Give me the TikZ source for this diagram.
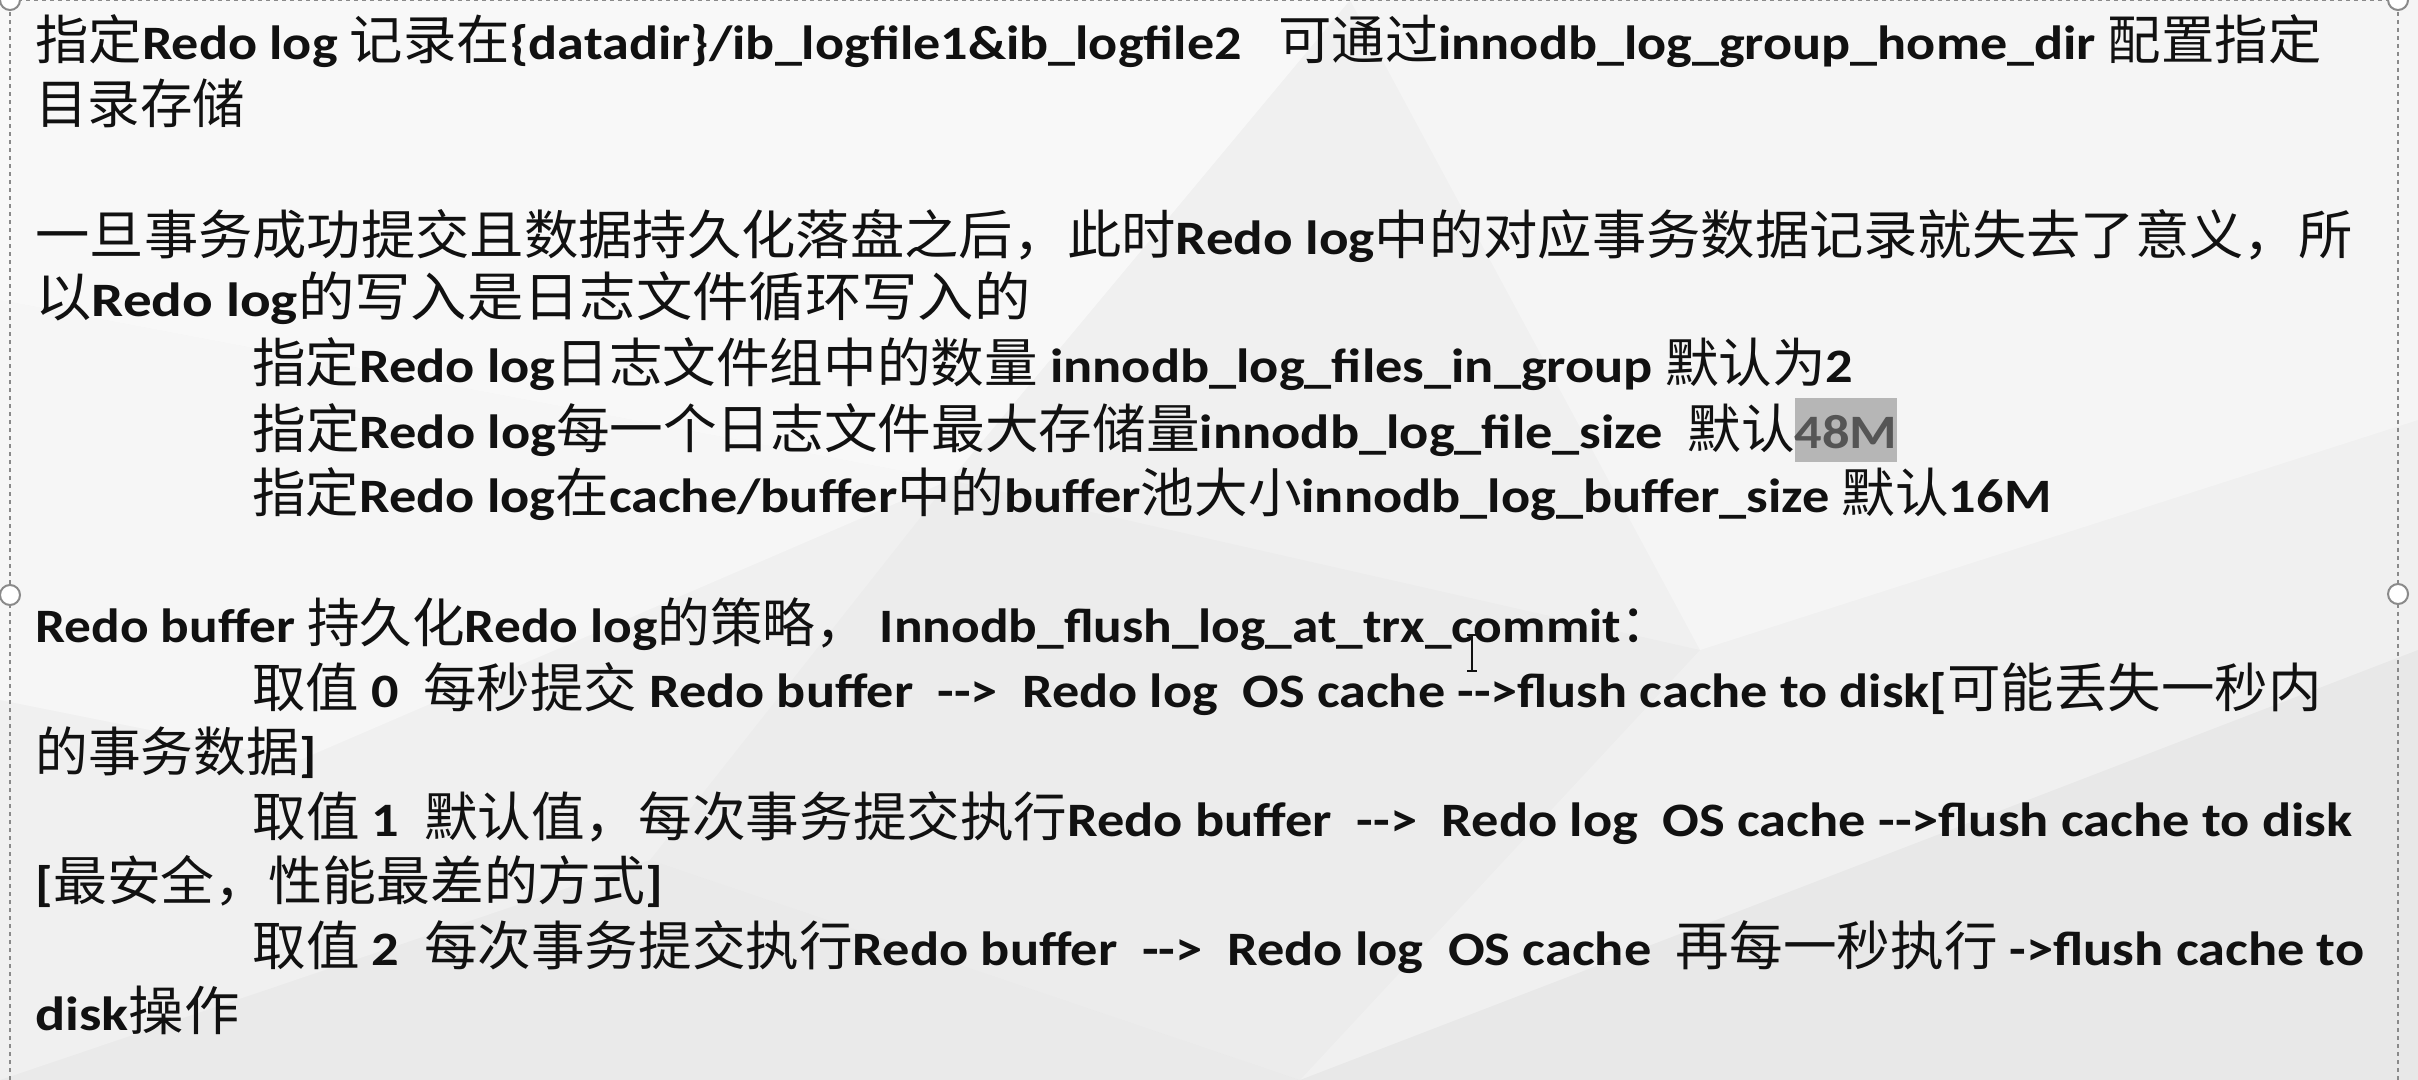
\documentclass[tikz,border=0pt]{standalone}
\usepackage{fontspec}
\usepackage{graphicx}
\setmainfont{Carlito}[FakeStretch=1.12]
\newfontfamily\cjkf{Noto Sans CJK SC}
\newcommand\C[1]{{\cjkf\fontsize{26.5}{30}\selectfont\mdseries #1}}
\newdimen\fitw
\newcommand\fit[2]{\fitw=#1pt\divide\fitw by 2\relax\resizebox{\fitw}{\height}{#2}}
\definecolor{bg}{HTML}{F0F0F0}
\definecolor{txt}{HTML}{111111}
\definecolor{hlbox}{HTML}{B6B6B6}
\definecolor{hltxt}{HTML}{555555}
\definecolor{frame}{HTML}{8A8A8A}
\newcommand\hl[1]{{\setlength\fboxsep{0pt}\colorbox{hlbox}{\rule[-7pt]{0pt}{32pt}\textcolor{hltxt}{#1}}}}
\tikzset{
  ln/.style={anchor=base west, inner sep=0pt, text=txt, font=\fontsize{24}{28}\selectfont\bfseries},
  handle/.style={draw=frame, fill=white, line width=1pt},
  boxedge/.style={draw=frame, line width=1pt, dash pattern=on 2pt off 2pt}
}
\begin{document}
\begin{tikzpicture}[x=0.5pt,y=-0.5pt]
\useasboundingbox (0,0) rectangle (2418,1080);
% background
\fill[bg] (0,0) rectangle (2418,1080);
\fill[white,opacity=0.55] (0,0) -- (1350,0) -- (950,480) -- (0,300) -- cycle;
\fill[white,opacity=0.35] (1350,0) -- (2418,0) -- (2418,420) -- (1700,650) -- cycle;
\fill[white,opacity=0.4] (0,300) -- (950,480) -- (300,760) -- (0,700) -- cycle;
\fill[black,opacity=0.03] (1300,1080) -- (2418,650) -- (2418,1080) -- cycle;
\fill[black,opacity=0.025] (0,1080) -- (650,860) -- (1300,1080) -- cycle;
\fill[black,opacity=0.015] (950,480) -- (1700,650) -- (1300,1080) -- (650,860) -- cycle;
% text box frame
\draw[boxedge] (10,1080) -- (10,0) -- (2398,0) -- (2398,1080);
\draw[handle] (10,0) circle (10);
\draw[handle] (2398,0) circle (10);
\draw[handle] (10,595) circle (10);
\draw[handle] (2398,594) circle (10);
% text lines
\node[ln] (l1) at (35,60) {\fit{2286}{\C{指定}Redo log \C{记录在}\{datadir\}/ib\_logfile1\&ib\_logfile2\ \ \ \C{可通过}innodb\_log\_group\_home\_dir \C{配置指定}}};
\node[ln] (l2) at (35,124) {\fit{210}{\C{目录存储}}};
\node[ln] (l4) at (35,255) {\fit{2317}{\C{一旦事务成功提交且数据持久化落盘之后，此时}Redo log\C{中的对应事务数据记录就失去了意义，所}}};
\node[ln] (l5) at (35,317) {\fit{995}{\C{以}Redo log\C{的写入是日志文件循环写入的}}};
\node[ln] (l6) at (252,383) {\fit{1601}{\C{指定}Redo log\C{日志文件组中的数量} innodb\_log\_files\_in\_group \C{默认为}2}};
\node[ln] (l7) at (252,448) {\fit{1645}{\C{指定}Redo log\C{每一个日志文件最大存储量}innodb\_log\_file\_size\ \ \C{默认}\hl{48M}}};
\node[ln] (l8) at (252,512) {\fit{1799}{\C{指定}Redo log\C{在}cache/buffer\C{中的}buffer\C{池大小}innodb\_log\_buffer\_size \C{默认}16M}};
\node[ln] (l10) at (35,642) {\fit{1638}{Redo buffer \C{持久化}Redo log\C{的策略，} Innodb\_flush\_log\_at\_trx\_commit\C{：}}};
\node[ln] (l11) at (252,707) {\fit{2069}{\C{取值} 0\ \ \C{每秒提交} Redo buffer\ \ -{}-> \ Redo log\ \ OS cache -{}->flush cache to disk[\C{可能丢失一秒内}}};
\node[ln] (l12) at (35,771) {\fit{281}{\C{的事务数据}]}};
\node[ln] (l13) at (252,836) {\fit{2100}{\C{取值} 1\ \ \C{默认值，每次事务提交执行}Redo buffer\ \ -{}-> \ Redo log\ \ OS cache -{}->flush cache to disk}};
\node[ln] (l14) at (35,900) {\fit{628}{[\C{最安全，性能最差的方式}]}};
\node[ln] (l15) at (252,965) {\fit{2112}{\C{取值} 2\ \ \C{每次事务提交执行}Redo buffer\ \ -{}-> \ Redo log\ \ OS cache\ \ \C{再每一秒执行} ->flush cache to}};
\node[ln] (l16) at (35,1030) {\fit{204}{disk\C{操作}}};
% text cursor (I-beam)
\coordinate (cur) at (1472,653);
\draw[txt, line width=0.8pt] ([yshift=9pt]cur) -- ([yshift=-9pt]cur);
\draw[txt, line width=0.8pt] ([xshift=-2.5pt,yshift=9pt]cur) -- ([xshift=2.5pt,yshift=9pt]cur);
\draw[txt, line width=0.8pt] ([xshift=-2.5pt,yshift=-9pt]cur) -- ([xshift=2.5pt,yshift=-9pt]cur);
\end{tikzpicture}
\end{document}
